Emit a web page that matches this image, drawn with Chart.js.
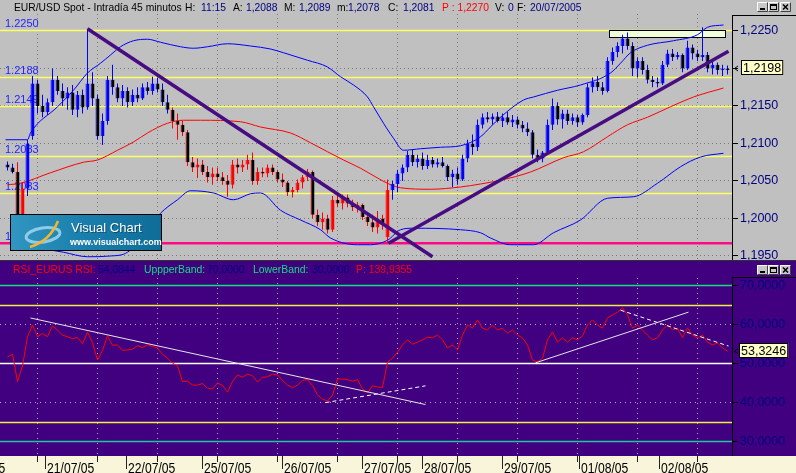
<!DOCTYPE html>
<html><head><meta charset="utf-8">
<script src="https://cdn.jsdelivr.net/npm/chart.js@4.4.0/dist/chart.umd.min.js"></script>
<style>
html,body{margin:0;padding:0;background:#C0C0C0;overflow:hidden;width:796px;height:473px}
#top{position:absolute;left:0;top:0;width:796px;height:261px}
#bot{position:absolute;left:0;top:261px;width:796px;height:212px}
canvas{display:block}
</style></head><body>
<div id="top"><canvas id="c1" width="796" height="261"></canvas></div>
<div id="bot"><canvas id="c2" width="796" height="212"></canvas></div>
<script>
// ---------- DATA (45-minute EUR/USD bars, index = bar number) ----------
const open = [
1.2072,1.2068,1.2062,1.2000,1.2040,1.2110,1.2180,1.2150,1.2142,1.2155,
1.2185,1.2170,1.2160,1.2168,1.2145,1.2165,1.2148,1.2180,1.2160,1.2110,
1.2130,1.2185,1.2175,1.2160,1.2170,1.2155,1.2165,1.2160,1.2175,1.2170,
1.2180,1.2172,1.2155,1.2145,1.2130,1.2125,1.2115,1.2075,1.2068,1.2072,
1.2062,1.2055,1.2060,1.2055,1.2050,1.2045,1.2072,1.2068,1.2072,1.2078,
1.2050,1.2062,1.2060,1.2068,1.2062,1.2052,1.2048,1.2035,1.2038,1.2048,
1.2055,1.2062,1.2005,1.1995,1.2000,1.1985,1.2025,1.2020,1.2028,1.2020,
1.2015,1.2018,1.2002,1.1995,1.1988,1.2000,1.1975,1.2038,1.2046,1.2060,
1.2068,1.2085,1.2075,1.2080,1.2070,1.2078,1.2072,1.2075,1.2070,1.2055,
1.2060,1.2052,1.2080,1.2100,1.2095,1.2125,1.2135,1.2132,1.2136,1.2130,
1.2135,1.2128,1.2132,1.2125,1.2120,1.2115,1.2085,1.2080,1.2088,1.2125,
1.2150,1.2132,1.2140,1.2130,1.2135,1.2128,1.2138,1.2175,1.2182,1.2175,
1.2170,1.2210,1.2222,1.2230,1.2240,1.2230,1.2200,1.2210,1.2198,1.2185,
1.2182,1.2180,1.2205,1.2220,1.2215,1.2218,1.2200,1.2228,1.2220,1.2215,
1.2218,1.2200,1.2205,1.2198,1.2200];
const high = [
1.2076,1.2073,1.2075,1.2048,1.2105,1.2190,1.2185,1.2165,1.2160,1.2200,
1.2190,1.2180,1.2175,1.2178,1.2170,1.2172,1.2253,1.2195,1.2165,1.2140,
1.2190,1.2205,1.2180,1.2178,1.2175,1.2172,1.2175,1.2180,1.2182,1.2189,
1.2188,1.2180,1.2165,1.2148,1.2140,1.2130,1.2118,1.2082,1.2080,1.2078,
1.2070,1.2068,1.2068,1.2062,1.2058,1.2078,1.2080,1.2078,1.2085,1.2088,
1.2068,1.2068,1.2072,1.2072,1.2065,1.2060,1.2050,1.2042,1.2052,1.2058,
1.2066,1.2064,1.2012,1.2008,1.2005,1.2030,1.2035,1.2032,1.2032,1.2025,
1.2022,1.2020,1.2008,1.2005,1.2010,1.2005,1.2052,1.2050,1.2065,1.2072,
1.2090,1.2092,1.2085,1.2088,1.2085,1.2082,1.2080,1.2082,1.2072,1.2065,
1.2068,1.2085,1.2105,1.2112,1.2132,1.2140,1.2142,1.2140,1.2142,1.2140,
1.2142,1.2138,1.2136,1.2130,1.2128,1.2118,1.2092,1.2090,1.2132,1.2160,
1.2155,1.2145,1.2145,1.2140,1.2138,1.2140,1.2180,1.2188,1.2190,1.2182,
1.2215,1.2228,1.2235,1.2245,1.2248,1.2235,1.2215,1.2215,1.2205,1.2190,
1.2188,1.2210,1.2225,1.2226,1.2222,1.2220,1.2237,1.2232,1.2225,1.2255,
1.2222,1.2212,1.2208,1.2205,1.2204];
const low = [
1.2064,1.2060,1.1970,1.1995,1.2030,1.2105,1.2140,1.2135,1.2138,1.2150,
1.2165,1.2150,1.2145,1.2138,1.2135,1.2140,1.2145,1.2150,1.2105,1.2098,
1.2125,1.2165,1.2155,1.2150,1.2148,1.2150,1.2155,1.2158,1.2165,1.2165,
1.2168,1.2150,1.2140,1.2120,1.2105,1.2110,1.2070,1.2062,1.2054,1.2058,
1.2048,1.2045,1.2050,1.2045,1.2029,1.2040,1.2060,1.2062,1.2065,1.2045,
1.2045,1.2055,1.2055,1.2058,1.2048,1.2042,1.2030,1.2028,1.2035,1.2040,
1.2050,1.2000,1.1990,1.1985,1.1980,1.1982,1.2015,1.2012,1.2015,1.2010,
1.2008,1.1998,1.1990,1.1982,1.1980,1.1985,1.1967,1.2025,1.2035,1.2050,
1.2062,1.2070,1.2068,1.2065,1.2066,1.2068,1.2068,1.2068,1.2050,1.2042,
1.2045,1.2050,1.2075,1.2085,1.2090,1.2120,1.2128,1.2125,1.2128,1.2122,
1.2125,1.2122,1.2120,1.2115,1.2110,1.2080,1.2075,1.2075,1.2085,1.2118,
1.2125,1.2120,1.2125,1.2125,1.2122,1.2125,1.2135,1.2168,1.2170,1.2165,
1.2168,1.2205,1.2215,1.2220,1.2225,1.2190,1.2188,1.2192,1.2180,1.2175,
1.2175,1.2178,1.2202,1.2210,1.2212,1.2195,1.2198,1.2212,1.2210,1.2210,
1.2195,1.2192,1.2192,1.2190,1.2192];
const close = [
1.2068,1.2062,1.2000,1.2040,1.2100,1.2180,1.2150,1.2142,1.2155,1.2185,
1.2170,1.2160,1.2168,1.2145,1.2165,1.2148,1.2180,1.2160,1.2110,1.2130,
1.2185,1.2175,1.2160,1.2170,1.2155,1.2165,1.2160,1.2175,1.2170,1.2180,
1.2172,1.2155,1.2145,1.2130,1.2125,1.2115,1.2075,1.2068,1.2072,1.2062,
1.2055,1.2060,1.2055,1.2050,1.2045,1.2072,1.2068,1.2072,1.2078,1.2050,
1.2062,1.2060,1.2068,1.2062,1.2052,1.2048,1.2035,1.2038,1.2048,1.2055,
1.2062,1.2005,1.1995,1.2000,1.1985,1.2025,1.2020,1.2028,1.2020,1.2015,
1.2018,1.2002,1.1995,1.1988,1.2000,1.1992,1.2038,1.2046,1.2060,1.2068,
1.2085,1.2075,1.2080,1.2070,1.2078,1.2072,1.2075,1.2070,1.2055,1.2060,
1.2052,1.2080,1.2100,1.2095,1.2125,1.2135,1.2132,1.2136,1.2130,1.2135,
1.2128,1.2132,1.2125,1.2120,1.2115,1.2085,1.2080,1.2088,1.2125,1.2150,
1.2132,1.2140,1.2130,1.2135,1.2128,1.2138,1.2175,1.2182,1.2175,1.2170,
1.2210,1.2222,1.2230,1.2240,1.2230,1.2200,1.2210,1.2198,1.2185,1.2182,
1.2180,1.2205,1.2220,1.2215,1.2218,1.2200,1.2228,1.2220,1.2215,1.2218,
1.2200,1.2205,1.2198,1.2200,1.2198];
// bars drawn in red (price under its average)
const redRuns = [[2,3],[33,76]];

// moving average (red) and bands (blue): [bar index, price]
const maIdx = [0,2.6,8.6,15.2,18,22,25.2,28,32,35.2,38.6,46.6,50.6,56.6,60.6,64,67.2,70.6,74,76.6,78.6,84.6,90.6,94.6,98.6,104.6,111.2,115.2,120,124,128,132.6,137.2,143.2];
const maVal = [1.2045,1.2047,1.2061,1.2075,1.2078,1.2091,1.2102,1.2114,1.2127,1.2131,1.2131,1.2129,1.2122,1.2114,1.2101,1.2089,1.2078,1.2067,1.2054,1.2045,1.2041,1.2039,1.2042,1.2046,1.2051,1.2062,1.2081,1.2089,1.2109,1.2125,1.2135,1.2149,1.2162,1.2174];
const upIdx = [-0.4,4,4.6,10,13.2,16,18.6,20.6,22.6,25.2,28,30.6,34.6,37.2,40,44,48.6,52.6,55.2,60,64,66.6,69.2,72,73.2,75.2,77.2,79.2,82.6,86.6,90.6,94.6,96.6,98.6,103.2,105.2,110,114.6,120.6,122.6,124.6,128,133.2,138,140,143.2];
const upVal = [1.2105,1.2105,1.2114,1.2149,1.2171,1.2194,1.2207,1.2218,1.2229,1.2237,1.2239,1.2235,1.2229,1.2227,1.2229,1.2233,1.2230,1.2226,1.2221,1.2211,1.2202,1.2189,1.2178,1.2162,1.2149,1.2127,1.2107,1.2091,1.2093,1.2095,1.2097,1.2109,1.2122,1.2135,1.2158,1.2162,1.2171,1.2178,1.2194,1.2207,1.2221,1.2231,1.2237,1.2245,1.2255,1.2258];
const loIdx = [8.6,11.2,16,20.6,24,28,30.6,34,36.6,41.2,45.2,48.6,50.6,54.6,58.6,62.6,64.6,70,72.6,76,78.6,81.2,90.6,94.6,96.6,100.6,105.2,109.2,114.6,120,125.2,130,134.6,138.6,143.2];
const loVal = [1.1958,1.1955,1.1949,1.1950,1.1955,1.1985,1.2007,1.2025,1.2037,1.2034,1.2025,1.2033,1.2034,1.2011,1.1998,1.1985,1.1974,1.1965,1.1965,1.1971,1.1985,1.1987,1.1985,1.1981,1.1974,1.1965,1.1965,1.1981,1.1998,1.2027,1.2029,1.2047,1.2069,1.2082,1.2087];

// RSI per bar
const rsi = [
51.8,52.5,45.5,49.5,57.0,60.0,57.0,57.8,57.0,59.8,
58.7,57.4,57.0,56.5,56.8,55.2,58.2,55.5,51.0,53.5,
57.2,54.8,54.9,53.5,53.6,53.8,54.7,54.2,54.9,54.5,
54.1,52.5,51.5,50.2,49.5,45.5,45.6,44.6,44.6,45.0,
43.8,43.6,45.1,44.5,42.8,45.5,47.2,46.6,47.4,47.0,
45.4,46.6,46.7,47.4,47.2,45.8,44.6,43.9,44.6,45.8,
46.0,44.5,42.1,41.0,40.5,42.0,46.2,46.1,46.0,45.6,
46.0,43.6,42.6,44.4,44.1,44.0,50.5,51.5,53.0,54.9,
56.2,55.1,55.6,56.2,56.9,56.7,57.4,56.2,54.1,54.9,
53.6,57.4,60.0,59.2,61.3,59.2,58.7,60.0,58.7,59.2,
57.9,58.7,57.4,56.7,54.9,51.0,50.5,51.5,56.2,58.2,
55.6,56.7,55.6,56.7,56.2,57.2,60.0,61.3,60.0,59.2,
61.8,62.6,63.3,64.4,62.6,59.2,60.0,58.7,57.4,56.2,
56.7,58.7,60.0,58.7,59.2,56.7,59.2,57.4,56.7,57.4,
55.6,54.9,55.4,54.1,53.3];

// axes
const priceTicks = [1.1950,1.2000,1.2050,1.2100,1.2150,1.2200,1.2250];
const rsiTicks = [30,40,50,60,70];
const gridIdx = [6,18,30,42,54,66,78,90,102,114,126,138];
const dayStart = [-10.3,7.7,23.9,39.1,54.9,70.9,83.1,99.1,114.3,130.3];
const dayLabels = ['20/07/05','21/07/05','22/07/05','25/07/05','26/07/05','27/07/05','28/07/05','29/07/05','01/08/05','02/08/05'];

// drawn objects
const levelVals = [1.2250,1.2188,1.2149,1.2083,1.2033];
const levelText = ['1.2250','1.2188','1.2149','1.2083','1.2033'];
const supportVal = 1.1967, supportText = '1.1967';
const trend1 = [[16,1.2253],[85,1.1949]];
const trend2 = [[76.2,1.1967],[144.2,1.2223]];
const boxIdx = [120.4,143.6], boxVal = [1.2251,1.2242];
const rsiLevels = [[70,'#10E080'],[65,'#F0F040'],[50,'#FFFFFF'],[35,'#F0F040'],[30,'#20C8A0']];
const rsiDotted = [60,40];
const rsiLine1 = [[4.6,61.8],[83.6,39.6]];
const rsiDash1 = [[63.6,40.1],[83.6,44.4]];
const rsiLine2 = [[105.6,50.3],[136.2,63.3]];
const rsiDash2 = [[122.6,63.8],[144.2,54.6]];

// ---------- helpers ----------
const FONT = '"Liberation Sans", Arial, sans-serif';
const fmt = v => v.toFixed(4).replace('.', ',');
const isRed = i => redRuns.some(r => i >= r[0] && i <= r[1]);
const pts = (xs, ys) => xs.map((x, k) => ({x, y: ys[k]}));
const seg = a => a.map(p => ({x: p[0], y: p[1]}));
const crisp = v => Math.round(v - 0.5) + 0.5;

function drawButtons(ctx, y) {
  [757, 768, 780].forEach((x, k) => {
    ctx.fillStyle = '#C8C8C8'; ctx.fillRect(x, y, 11, 10);
    ctx.strokeStyle = '#FFFFFF'; ctx.lineWidth = 1;
    ctx.beginPath(); ctx.moveTo(x + 0.5, y + 9.5); ctx.lineTo(x + 0.5, y + 0.5); ctx.lineTo(x + 10.5, y + 0.5); ctx.stroke();
    ctx.strokeStyle = '#404040';
    ctx.beginPath(); ctx.moveTo(x + 10.5, y + 0.5); ctx.lineTo(x + 10.5, y + 9.5); ctx.lineTo(x + 0.5, y + 9.5); ctx.stroke();
    ctx.strokeStyle = '#000'; ctx.fillStyle = '#000';
    if (k === 0) ctx.fillRect(x + 3, y + 6, 5, 2);
    if (k === 1) { ctx.strokeRect(x + 2.5, y + 2.5, 6, 5); ctx.fillRect(x + 2, y + 2, 7, 2); }
    if (k === 2) { ctx.lineWidth = 1.5; ctx.beginPath(); ctx.moveTo(x + 3, y + 2.5); ctx.lineTo(x + 8, y + 7.5); ctx.moveTo(x + 8, y + 2.5); ctx.lineTo(x + 3, y + 7.5); ctx.stroke(); ctx.lineWidth = 1; }
  });
}
function drawSegments(ctx, segs, y, size) {
  ctx.font = size + 'px ' + FONT; ctx.textBaseline = 'alphabetic'; ctx.textAlign = 'left';
  segs.forEach(s => { ctx.fillStyle = s[2]; ctx.fillText(s[0], s[1], y); });
}
function drawValueBox(ctx, py, text, x0) {
  ctx.font = '12.5px ' + FONT;
  const w = ctx.measureText(text).width + 4;
  ctx.fillStyle = '#FFFFC8'; ctx.fillRect(x0, Math.round(py) - 8, w, 15);
  ctx.strokeStyle = '#000'; ctx.lineWidth = 1; ctx.strokeRect(x0 + 0.5, Math.round(py) - 7.5, w - 1, 14);
  ctx.fillStyle = '#000'; ctx.textBaseline = 'middle'; ctx.textAlign = 'left';
  ctx.fillText(text, x0 + 2, Math.round(py) + 0.5);
  ctx.beginPath(); ctx.moveTo(738, py - 2.5); ctx.lineTo(734.5, py); ctx.lineTo(738, py + 2.5); ctx.stroke();
}
function drawLogo(ctx) {
  const x = 10, y = 214, w = 152, h = 37;
  const g = ctx.createLinearGradient(x, 0, x + w, 0);
  g.addColorStop(0, '#3296C2'); g.addColorStop(0.5, '#1A7EAC'); g.addColorStop(1, '#0F6C98');
  ctx.fillStyle = g; ctx.fillRect(x, y, w, h);
  ctx.strokeStyle = '#000'; ctx.lineWidth = 1; ctx.strokeRect(x + 0.5, y + 0.5, w - 1, h - 1);
  ctx.strokeStyle = 'rgba(160,215,240,0.85)'; ctx.lineWidth = 3;
  ctx.beginPath(); ctx.ellipse(43, 235, 17, 7, -0.15, 0, Math.PI * 2); ctx.stroke();
  ctx.strokeStyle = '#F2B632'; ctx.lineWidth = 2.5;
  ctx.beginPath(); ctx.moveTo(30, 247); ctx.quadraticCurveTo(50, 241, 58, 221); ctx.stroke();
  ctx.fillStyle = 'rgba(0,0,0,0.35)';
  ctx.font = '13px ' + FONT; ctx.textBaseline = 'alphabetic';
  ctx.fillText('Visual Chart', 72, 233);
  ctx.fillStyle = '#FFFFFF'; ctx.fillText('Visual Chart', 71, 232);
  ctx.font = 'bold 9px ' + FONT; ctx.fillText('www.visualchart.com', 70, 245);
}

// ---------- TOP PRICE CHART ----------
const topPlugin = {
  id: 'topDecor',
  beforeDraw(c) { const ctx = c.ctx; ctx.save(); ctx.fillStyle = '#C0C0C0'; ctx.fillRect(0, 0, c.width, c.height); ctx.restore(); },
  beforeDatasetsDraw(c) {
    const ctx = c.ctx, xs = c.scales.x, ys = c.scales.y, a = c.chartArea;
    ctx.save();
    ctx.strokeStyle = '#777'; ctx.lineWidth = 1; ctx.setLineDash([1, 3]);
    gridIdx.forEach(v => { const px = crisp(xs.getPixelForValue(v)); ctx.beginPath(); ctx.moveTo(px, 14); ctx.lineTo(px, a.bottom); ctx.stroke(); });
    priceTicks.forEach(v => { const py = crisp(ys.getPixelForValue(v)); ctx.beginPath(); ctx.moveTo(a.left, py); ctx.lineTo(a.right, py); ctx.stroke(); });
    ctx.setLineDash([]);
    ctx.font = '11px ' + FONT; ctx.textBaseline = 'alphabetic'; ctx.textAlign = 'left';
    levelVals.forEach((v, k) => {
      const py = crisp(ys.getPixelForValue(v));
      ctx.strokeStyle = '#FFFF60'; ctx.lineWidth = 1.3;
      ctx.beginPath(); ctx.moveTo(a.left, py); ctx.lineTo(a.right, py); ctx.stroke();
      ctx.fillStyle = '#2424FF'; ctx.fillText(levelText[k], 5, py - 3.5);
    });
    const sp = ys.getPixelForValue(supportVal);
    ctx.strokeStyle = '#FF0A82'; ctx.lineWidth = 2.6;
    ctx.beginPath(); ctx.moveTo(a.left, sp); ctx.lineTo(a.right, sp); ctx.stroke();
    ctx.fillStyle = '#2424FF'; ctx.fillText(supportText, 5, sp - 3);
    const bx0 = xs.getPixelForValue(boxIdx[0]), bx1 = xs.getPixelForValue(boxIdx[1]);
    const by0 = ys.getPixelForValue(boxVal[0]), by1 = ys.getPixelForValue(boxVal[1]);
    ctx.fillStyle = '#EEFFDA'; ctx.fillRect(bx0, by0, bx1 - bx0, by1 - by0);
    ctx.strokeStyle = '#000'; ctx.lineWidth = 1;
    ctx.strokeRect(crisp(bx0), crisp(by0), Math.round(bx1 - bx0), Math.round(by1 - by0));
    ctx.restore();
  },
  afterDraw(c) {
    const ctx = c.ctx, ys = c.scales.y;
    ctx.save();
    drawLogo(ctx);
    drawSegments(ctx, [
      ['EUR/USD Spot - Intradía 45 minutos', 14, '#000'], ['H:', 185, '#000'], ['11:15', 201, '#000080'],
      ['A:', 233, '#000'], ['1,2088', 246, '#000080'], ['M:', 284, '#000'], ['1,2089', 299, '#000080'],
      ['m:', 337, '#000'], ['1,2078', 348, '#000080'], ['C:', 388, '#000'], ['1,2081', 403, '#000080'],
      ['P : 1,2270', 442, '#FF0000'], ['V:', 495, '#000'], ['0', 508, '#000080'],
      ['F:', 517, '#000'], ['20/07/2005', 530, '#000080']], 10.5, 10.3);
    ctx.strokeStyle = '#000'; ctx.lineWidth = 1;
    ctx.beginPath(); ctx.moveTo(732.5, 15); ctx.lineTo(732.5, 261); ctx.moveTo(732, 15.5); ctx.lineTo(796, 15.5); ctx.stroke();
    priceTicks.forEach(v => { const py = crisp(ys.getPixelForValue(v)); ctx.beginPath(); ctx.moveTo(733, py); ctx.lineTo(738, py); ctx.stroke(); });
    drawValueBox(ctx, ys.getPixelForValue(close[close.length - 1]) - 1.5, fmt(close[close.length - 1]), 741);
    drawButtons(ctx, 2);
    ctx.fillStyle = '#303030'; ctx.fillRect(0, 260, 796, 1);
    ctx.restore();
  }
};

const colorOf = i => isRed(i) ? '#FF0000' : '#0000FF';
const idx = close.map((_, i) => i);

new Chart(document.getElementById('c1'), {
  type: 'bar',
  data: {
    datasets: [
      {type: 'line', data: seg(trend1), borderColor: '#470C82', borderWidth: 3.5, pointRadius: 0, order: 0},
      {type: 'line', data: seg(trend2), borderColor: '#470C82', borderWidth: 3.5, pointRadius: 0, order: 0},
      {type: 'bar', data: idx.map(i => ({x: i, y: [Math.min(open[i], close[i]), Math.max(open[i], close[i])]})),
        backgroundColor: idx.map(i => close[i] >= open[i] ? colorOf(i) : '#000000'),
        borderColor: idx.map(colorOf), borderWidth: {left: 1, right: 0, top: 0, bottom: 0}, borderSkipped: false,
        barThickness: 4, grouped: false, inflateAmount: 0, order: 1},
      {type: 'bar', data: idx.map(i => ({x: i, y: [low[i], high[i]]})),
        backgroundColor: idx.map(colorOf), barThickness: 1, grouped: false, inflateAmount: 0, borderWidth: 0, order: 2},
      {type: 'line', data: pts(maIdx, maVal), borderColor: '#FF0000', borderWidth: 1, pointRadius: 0, cubicInterpolationMode: 'monotone', order: 3},
      {type: 'line', data: pts(upIdx, upVal), borderColor: '#0000FF', borderWidth: 1, pointRadius: 0, cubicInterpolationMode: 'monotone', order: 3},
      {type: 'line', data: pts(loIdx, loVal), borderColor: '#0000FF', borderWidth: 1, pointRadius: 0, cubicInterpolationMode: 'monotone', order: 3}
    ]
  },
  options: {
    responsive: false, animation: false, devicePixelRatio: 1, events: [],
    layout: {padding: 0, autoPadding: false},
    plugins: {legend: {display: false}, tooltip: {enabled: false}},
    scales: {
      x: {type: 'linear', min: -1.5, max: 144.9, display: false, offset: false},
      y: {type: 'linear', position: 'right', min: 1.229133 - 0.0348, max: 1.229133,
        grid: {display: false, drawTicks: false}, border: {display: false},
        ticks: {color: '#000080', font: {family: FONT, size: 12.5}, padding: 8, autoSkip: false, callback: v => fmt(v)},
        afterBuildTicks: s => { s.ticks = priceTicks.map(v => ({value: v})); },
        afterFit: s => { s.width = 64; s.paddingTop = 0; s.paddingBottom = 0; }}
    }
  },
  plugins: [topPlugin]
});

// ---------- BOTTOM RSI CHART ----------
const botPlugin = {
  id: 'botDecor',
  beforeDraw(c) {
    const ctx = c.ctx; ctx.save();
    ctx.fillStyle = '#400080'; ctx.fillRect(0, 0, c.width, c.height);
    ctx.fillStyle = '#F8F5DA'; ctx.fillRect(0, c.chartArea.bottom, c.width, c.height - c.chartArea.bottom);
    ctx.restore();
  },
  beforeDatasetsDraw(c) {
    const ctx = c.ctx, xs = c.scales.x, ys = c.scales.y, a = c.chartArea;
    ctx.save();
    ctx.strokeStyle = '#B0B0B0'; ctx.lineWidth = 1; ctx.setLineDash([1, 4]);
    gridIdx.forEach(v => { const px = crisp(xs.getPixelForValue(v)); ctx.beginPath(); ctx.moveTo(px, 17); ctx.lineTo(px, a.bottom); ctx.stroke(); });
    rsiDotted.forEach(v => { const py = crisp(ys.getPixelForValue(v)); ctx.beginPath(); ctx.moveTo(a.left, py); ctx.lineTo(a.right, py); ctx.stroke(); });
    ctx.setLineDash([]);
    rsiLevels.forEach(l => { const py = crisp(ys.getPixelForValue(l[0])); ctx.strokeStyle = l[1]; ctx.lineWidth = 1.3; ctx.beginPath(); ctx.moveTo(a.left, py); ctx.lineTo(a.right, py); ctx.stroke(); });
    ctx.restore();
  },
  afterDraw(c) {
    const ctx = c.ctx, xs = c.scales.x, ys = c.scales.y, a = c.chartArea;
    ctx.save();
    drawSegments(ctx, [
      ['RSI_EURUS RSI:', 13, '#FF0000'], ['54,0844', 98, '#000080'], ['UppperBand:', 144, '#10E080'],
      ['70,0000', 207, '#000080'], ['LowerBand:', 253, '#10E080'], ['30,0000', 312, '#000080'],
      ['P: 139,9355', 356, '#FF0000']], 12, 10.4);
    ctx.strokeStyle = '#000'; ctx.lineWidth = 1;
    ctx.beginPath(); ctx.moveTo(732.5, 16); ctx.lineTo(732.5, a.bottom); ctx.moveTo(732, 16.5); ctx.lineTo(796, 16.5); ctx.stroke();
    rsiTicks.forEach(v => { const py = crisp(ys.getPixelForValue(v)); ctx.beginPath(); ctx.moveTo(733, py); ctx.lineTo(738, py); ctx.stroke(); });
    drawValueBox(ctx, ys.getPixelForValue(rsi[rsi.length - 1]), fmt(rsi[rsi.length - 1] + 0.0246), 739);
    drawButtons(ctx, 4);
    // date axis
    ctx.strokeStyle = '#222'; ctx.lineWidth = 1;
    gridIdx.forEach(v => { const px = crisp(xs.getPixelForValue(v)); ctx.beginPath(); ctx.moveTo(px, a.bottom); ctx.lineTo(px, a.bottom + 6); ctx.stroke(); });
    ctx.fillStyle = '#000'; ctx.font = '15px ' + FONT; ctx.textBaseline = 'alphabetic'; ctx.textAlign = 'left';
    dayStart.forEach((v, k) => {
      const px = crisp(xs.getPixelForValue(v));
      ctx.beginPath(); ctx.moveTo(px, a.bottom); ctx.lineTo(px, a.bottom + 13); ctx.stroke();
      ctx.save(); ctx.translate(px + 1.5, 212); ctx.scale(0.81, 1); ctx.fillText(dayLabels[k], 0, 0); ctx.restore();
    });
    ctx.restore();
  }
};

new Chart(document.getElementById('c2'), {
  type: 'line',
  data: {
    datasets: [
      {data: rsi.map((v, i) => ({x: i, y: v})), borderColor: '#FF0000', borderWidth: 1, pointRadius: 0, order: 1},
      {data: seg(rsiLine1), borderColor: '#E6E6E6', borderWidth: 1, pointRadius: 0, order: 0},
      {data: seg(rsiLine2), borderColor: '#E6E6E6', borderWidth: 1, pointRadius: 0, order: 0},
      {data: seg(rsiDash1), borderColor: '#FFFFFF', borderWidth: 1, borderDash: [4, 3], pointRadius: 0, order: 0},
      {data: seg(rsiDash2), borderColor: '#FFFFFF', borderWidth: 1, borderDash: [4, 3], pointRadius: 0, order: 0}
    ]
  },
  options: {
    responsive: false, animation: false, devicePixelRatio: 1, events: [],
    layout: {padding: {left: 0, right: 0, top: 0, bottom: 17}, autoPadding: false},
    plugins: {legend: {display: false}, tooltip: {enabled: false}},
    scales: {
      x: {type: 'linear', min: -1.5, max: 144.9, display: false, offset: false},
      y: {type: 'linear', position: 'right', min: 26.41, max: 76.41,
        grid: {display: false, drawTicks: false}, border: {display: false},
        ticks: {color: '#000080', font: {family: FONT, size: 12.5}, padding: 8, autoSkip: false, callback: v => fmt(v)},
        afterBuildTicks: s => { s.ticks = rsiTicks.map(v => ({value: v})); },
        afterFit: s => { s.width = 64; s.paddingTop = 0; s.paddingBottom = 0; }}
    }
  },
  plugins: [botPlugin]
});
</script>
</body></html>
